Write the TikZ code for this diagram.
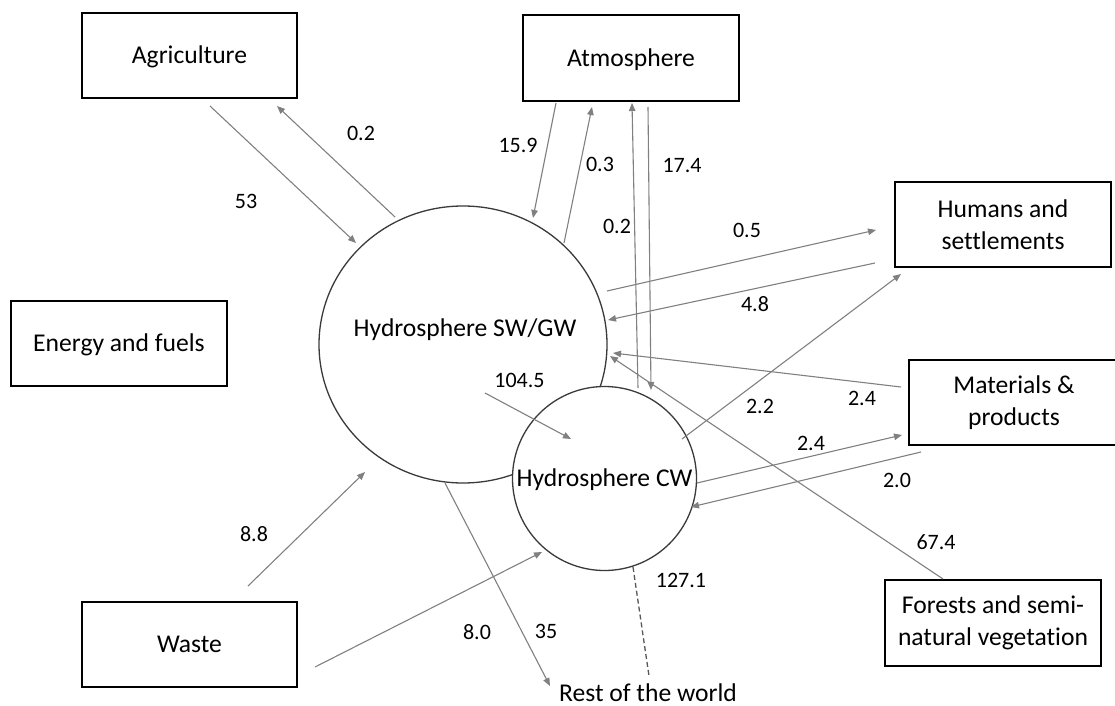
\documentclass[tikz,border=0pt]{standalone}
\usepackage{fontspec}
\setmainfont{Carlito}[Ligatures=NoCommon]
\usetikzlibrary{arrows.meta,shapes.geometric}
\definecolor{arrowgray}{HTML}{808080}
\definecolor{ringgray}{HTML}{3A3A3A}
\begin{document}
\begin{tikzpicture}[x=1bp,y=-1bp,
  boxnode/.style={draw=black, line width=2bp, rectangle, inner sep=0pt, outer sep=0pt,
    minimum width=216bp, minimum height=85bp, align=center,
    font=\fontsize{25.6bp}{32bp}\selectfont},
  oneline/.style={text height=16.5bp, text depth=0pt},
  flow/.style={draw=arrowgray, line width=1.1bp, -{Triangle[length=8bp,width=6.5bp]}},
  val/.style={inner sep=0pt, font=\fontsize{22bp}{26bp}\selectfont},
  bigtext/.style={inner sep=0pt, font=\fontsize{25.6bp}{32bp}\selectfont}
]
\useasboundingbox (0,0) rectangle (1115,706);

% boxes
\node[boxnode, oneline, minimum width=215bp] (agri) at (189.5,55.5) {Agriculture};
\node[boxnode, oneline, minimum height=86bp] (atmo) at (631,58) {Atmosphere};
\node[boxnode] (hum) at (1003,224.5) {Humans and\\settlements};
\node[boxnode, minimum width=210bp] (mat) at (1014,402.5) {Materials \&\\products};
\node[boxnode, oneline] (energy) at (119,343.5) {Energy and fuels};
\node[boxnode, oneline, minimum width=215bp] (waste) at (189.5,644.5) {Waste};
\node[boxnode, minimum height=86bp] (forest) at (993,623) {Forests and semi-\\natural vegetation};

% hydrosphere circles
\node[ellipse, draw=ringgray, line width=1.3bp, fill=white, inner sep=0pt,
  minimum width=288bp, minimum height=277bp] (sw) at (463,344.5) {};
\node[bigtext, anchor=base] (swt) at (465,336.5) {Hydrosphere SW/GW};
\node[circle, draw=ringgray, line width=1.3bp, fill=white, inner sep=0pt,
  minimum size=184bp, bigtext, oneline] (cw) at (604.5,478.5) {Hydrosphere CW};
\node[bigtext, anchor=base] (rest) at (648,701) {Rest of the world};

% connector end points
\coordinate (p53s) at (210,106);   \coordinate (p53e) at (356,243);
\coordinate (p02s) at (395,217);   \coordinate (p02e) at (277,106);
\coordinate (p159s) at (556,103);  \coordinate (p159e) at (533,218);
\coordinate (p03s) at (564,243);   \coordinate (p03e) at (592,107);
\coordinate (p02bs) at (638,388);  \coordinate (p02be) at (632,103);
\coordinate (p174s) at (648,107);  \coordinate (p174e) at (651,390);
\coordinate (p05s) at (607,291);   \coordinate (p05e) at (876,230);
\coordinate (p48s) at (875,263);   \coordinate (p48e) at (608,320);
\coordinate (p22s) at (682,439);   \coordinate (p22e) at (901,274);
\coordinate (p24as) at (901,387);  \coordinate (p24ae) at (613,353);
\coordinate (p674s) at (943,579);  \coordinate (p674e) at (610,356);
\coordinate (p24bs) at (697,483);  \coordinate (p24be) at (902,435);
\coordinate (p20s) at (921,452);   \coordinate (p20e) at (691,507);
\coordinate (p1045s) at (485,393); \coordinate (p1045e) at (571,439);
\coordinate (p35s) at (445,483);   \coordinate (p35e) at (550,686);
\coordinate (p80s) at (315,667);   \coordinate (p80e) at (542,552);
\coordinate (p88s) at (248,586);   \coordinate (p88e) at (365,472);
\coordinate (pds) at (633,567);    \coordinate (pde) at (649,676);

% flows
\draw[flow] (p53s) -- (p53e);
\draw[flow] (p02s) -- (p02e);
\draw[flow] (p159s) -- (p159e);
\draw[flow] (p03s) -- (p03e);
\draw[flow] (p02bs) -- (p02be);
\draw[flow] (p174s) -- (p174e);
\draw[flow] (p05s) -- (p05e);
\draw[flow] (p48s) -- (p48e);
\draw[flow] (p22s) -- (p22e);
\draw[flow] (p24as) -- (p24ae);
\draw[flow] (p674s) -- (p674e);
\draw[flow] (p24bs) -- (p24be);
\draw[flow] (p20s) -- (p20e);
\draw[flow] (p1045s) -- (p1045e);
\draw[flow] (p35s) -- (p35e);
\draw[flow] (p80s) -- (p80e);
\draw[flow] (p88s) -- (p88e);
\draw[draw=ringgray!85, line width=1.3bp, dash pattern=on 5bp off 3bp] (pds) -- (pde);

% values
\node[val] (v02a) at (361,133) {0.2};
\node[val] (v53) at (246,201) {53};
\node[val] (v159) at (518,145) {15.9};
\node[val] (v03) at (600,164) {0.3};
\node[val] (v02b) at (617,226) {0.2};
\node[val] (v174) at (682,166) {17.4};
\node[val] (v05) at (747,230) {0.5};
\node[val] (v48) at (755,304) {4.8};
\node[val] (v22) at (760,406) {2.2};
\node[val] (v24a) at (862,398) {2.4};
\node[val] (v24b) at (811,443) {2.4};
\node[val] (v20) at (897,480) {2.0};
\node[val] (v674) at (936,542) {67.4};
\node[val] (v1045) at (519.5,380) {104.5};
\node[val] (v1271) at (681,580) {127.1};
\node[val] (v35) at (546,631) {35};
\node[val] (v80) at (477,632) {8.0};
\node[val] (v88) at (254,534) {8.8};
\end{tikzpicture}
\end{document}
